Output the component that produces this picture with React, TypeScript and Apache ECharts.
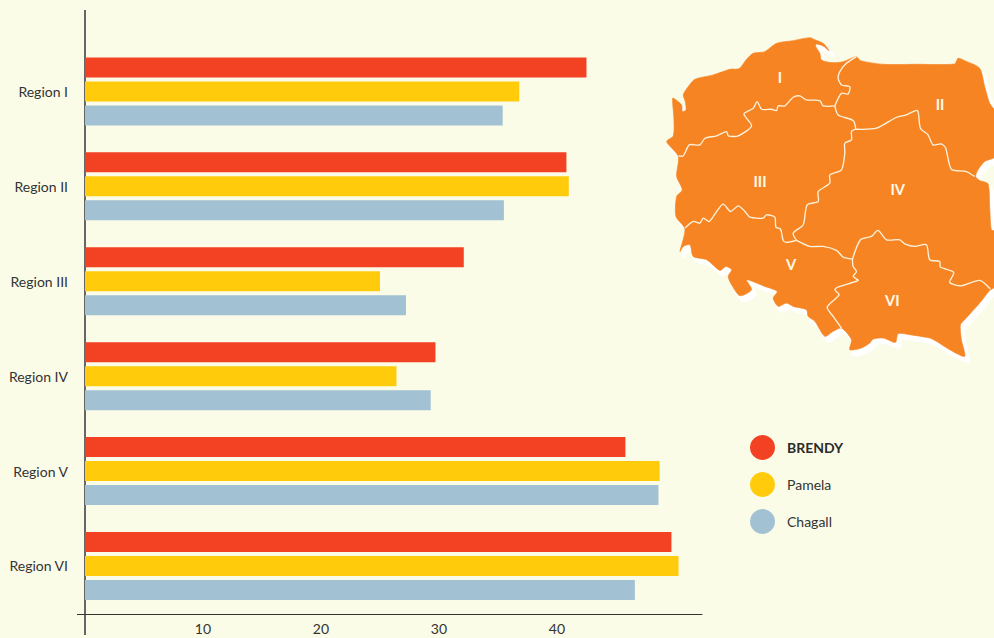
import React, { useEffect, useRef } from "react";
import * as echarts from "echarts";

const categories = ["Region I", "Region II", "Region III", "Region IV", "Region V", "Region VI"];
const brendy = [42.5, 40.8, 32.1, 29.7, 45.8, 49.7];
const pamela = [36.8, 41.0, 25.0, 26.4, 48.7, 50.3];
const chagall = [35.4, 35.5, 27.2, 29.3, 48.6, 46.6];
const tickLabels = [10, 20, 30, 40];

const FONT = "Lato, 'Open Sans', sans-serif";
const BG = "#fbfce8";
const ORANGE = "#f68423";
const BORDER = "#fdf3dc";

const outline: number[][] = [
  [50, 365], [70, 348], [72, 300], [68, 235], [78, 240], [95, 255], [97, 275], [108, 270], [106, 245], [100, 225], [115, 200], [135, 178],
  [190, 165], [240, 148], [268, 146], [290, 118], [310, 100], [345, 95], [380, 70], [430, 62], [480, 53], [497, 60],
  [520, 70], [538, 92], [520, 78], [500, 72], [497, 78], [510, 100], [515, 120], [545, 128], [580, 125], [620, 110], [632, 122], [700, 133], [800, 133], [915, 132],
  [925, 115], [945, 122], [990, 145], [1005, 200], [1020, 250], [1036, 275], [1036, 410], [1005, 425], [985, 450], [978, 470],
  [990, 482], [1015, 492], [1020, 560], [1025, 630], [1036, 635], [1036, 800], [1020, 812], [990, 850], [945, 900], [932, 915],
  [935, 960], [945, 1010], [900, 990], [860, 965], [840, 955], [780, 945], [745, 942], [737, 968], [700, 955], [670, 958],
  [660, 970], [635, 985], [600, 990], [605, 960], [575, 925], [550, 935], [525, 950], [495, 905], [475, 890], [470, 870],
  [430, 860], [410, 850], [385, 860], [370, 835], [382, 815], [345, 800], [290, 780], [305, 810], [270, 828], [245, 795],
  [235, 770], [245, 750], [228, 740], [210, 752], [170, 720], [130, 710], [120, 675], [100, 680], [90, 695], [105, 628],
  [78, 590], [80, 530], [97, 510], [80, 470], [85, 410],
];

const borders: number[][][] = [
  [[85, 408], [100, 408], [118, 375], [150, 375], [165, 355], [200, 348], [230, 335], [235, 348], [265, 348], [305, 318], [282, 282], [310, 265], [322, 245], [335, 268], [365, 268], [380, 272], [385, 258], [405, 258], [430, 232], [450, 228], [470, 240], [510, 242], [520, 258], [555, 258]],
  [[555, 258], [575, 220], [595, 222], [600, 200], [575, 195], [565, 175], [570, 155], [590, 130], [620, 110]],
  [[555, 258], [565, 285], [610, 302], [618, 328]],
  [[618, 328], [680, 325], [740, 292], [770, 285], [803, 272], [812, 325], [835, 345], [850, 375], [875, 372], [888, 385], [905, 448], [950, 455], [975, 470]],
  [[618, 328], [605, 335], [605, 360], [585, 370], [585, 400], [575, 450], [540, 465], [540, 490], [505, 515], [505, 545], [472, 555], [460, 615], [430, 640], [440, 662]],
  [[105, 625], [130, 605], [150, 610], [160, 595], [178, 605], [200, 575], [220, 553], [242, 575], [265, 558], [285, 575], [300, 592], [340, 595], [350, 585], [375, 592], [378, 622], [392, 628], [400, 662], [410, 668], [440, 662]],
  [[440, 662], [480, 680], [520, 680], [560, 692], [580, 712], [608, 718]],
  [[608, 718], [632, 660], [665, 650], [685, 632], [710, 660], [750, 660], [765, 672], [795, 680], [830, 675], [840, 720], [870, 725], [872, 742], [912, 758], [900, 788], [935, 798], [990, 782], [1022, 808]],
  [[608, 718], [610, 740], [620, 755], [610, 770], [625, 782], [570, 800], [555, 810], [568, 825], [532, 862], [550, 890], [575, 925]],
];

const regionLabels: [string, number, number][] = [
  ["I", 390, 172], ["II", 870, 253], ["III", 330, 484], ["IV", 743, 508], ["V", 423, 732], ["VI", 727, 842],
];

export default function App() {
  const ref = useRef<HTMLDivElement>(null);
  useEffect(() => {
    document.body.style.margin = "0";
    document.body.style.background = BG;
    const chart = echarts.init(ref.current!, undefined, { renderer: "svg" });
    const barStyle = (name: string, data: number[], color: string) => ({
      name, type: "bar", data, barWidth: 20, barGap: "20%", itemStyle: { color },
    });
    chart.setOption({
      animation: false,
      backgroundColor: BG,
      textStyle: { fontFamily: FONT },
      grid: { left: 85, top: 44, width: 617, height: 569.4 },
      xAxis: {
        type: "value", min: 0, max: 52.29, interval: 10, offset: 1,
        splitLine: { show: false }, axisTick: { show: false },
        axisLine: { show: true, lineStyle: { color: "#333", width: 1 } },
        axisLabel: { customValues: tickLabels, color: "#333", fontSize: 14, fontFamily: FONT, margin: 7 },
      },
      yAxis: {
        type: "category", data: categories, inverse: true,
        axisTick: { show: false },
        axisLine: { show: true, lineStyle: { color: "#666", width: 2 } },
        axisLabel: { color: "#333", fontSize: 14, fontFamily: FONT, margin: 17 },
      },
      legend: {
        orient: "vertical", left: 745, top: 430, itemWidth: 25, itemHeight: 25, itemGap: 12,
        icon: "circle", selectedMode: false,
        data: ["BRENDY", "Pamela", "Chagall"],
        formatter: (n: string) => (n === "BRENDY" ? `{b|${n}}` : `{n|${n}}`),
        textStyle: {
          rich: {
            b: { fontFamily: FONT, fontWeight: "bold", fontSize: 14, color: "#2b2b2b", padding: [0, 0, 0, 7] },
            n: { fontFamily: FONT, fontSize: 14, color: "#333", padding: [0, 0, 0, 7] },
          },
        },
      },
      series: [
        barStyle("BRENDY", brendy, "#f34123"),
        barStyle("Pamela", pamela, "#ffcb0b"),
        barStyle("Chagall", chagall, "#a2c1d3"),
      ],
      graphic: [
        { type: "line", shape: { x1: 85, y1: 10, x2: 85, y2: 44 }, style: { stroke: "#666", lineWidth: 2 } },
        { type: "line", shape: { x1: 85, y1: 613, x2: 85, y2: 635 }, style: { stroke: "#666", lineWidth: 2 } },
        { type: "line", shape: { x1: 77, y1: 614.5, x2: 85, y2: 614.5 }, style: { stroke: "#333", lineWidth: 1 } },
        {
          type: "group", x: 650, y: 20, scaleX: 1 / 3, scaleY: 1 / 3,
          children: [
            { type: "polygon", x: 10, y: 14, shape: { points: outline, smooth: 0.25 }, style: { fill: "#ffffff", stroke: "#ffffff", lineWidth: 10, lineJoin: "round" } },
            { type: "polygon", shape: { points: outline, smooth: 0.25 }, style: { fill: ORANGE, stroke: ORANGE, lineWidth: 2, lineJoin: "round" } },
            ...borders.map((points) => ({
              type: "polyline", shape: { points, smooth: 0.25 }, style: { fill: "none", stroke: BORDER, lineWidth: 4, lineJoin: "round" },
            })),
            ...regionLabels.map(([text, x, y]) => ({
              type: "text", x, y,
              style: { text, fill: "#fffbe8", fontFamily: FONT, fontWeight: "bold", fontSize: 44, align: "center", verticalAlign: "middle" },
            })),
          ],
        },
      ],
    });
    return () => chart.dispose();
  }, []);
  return <div ref={ref} style={{ width: 994, height: 638 }} />;
}
